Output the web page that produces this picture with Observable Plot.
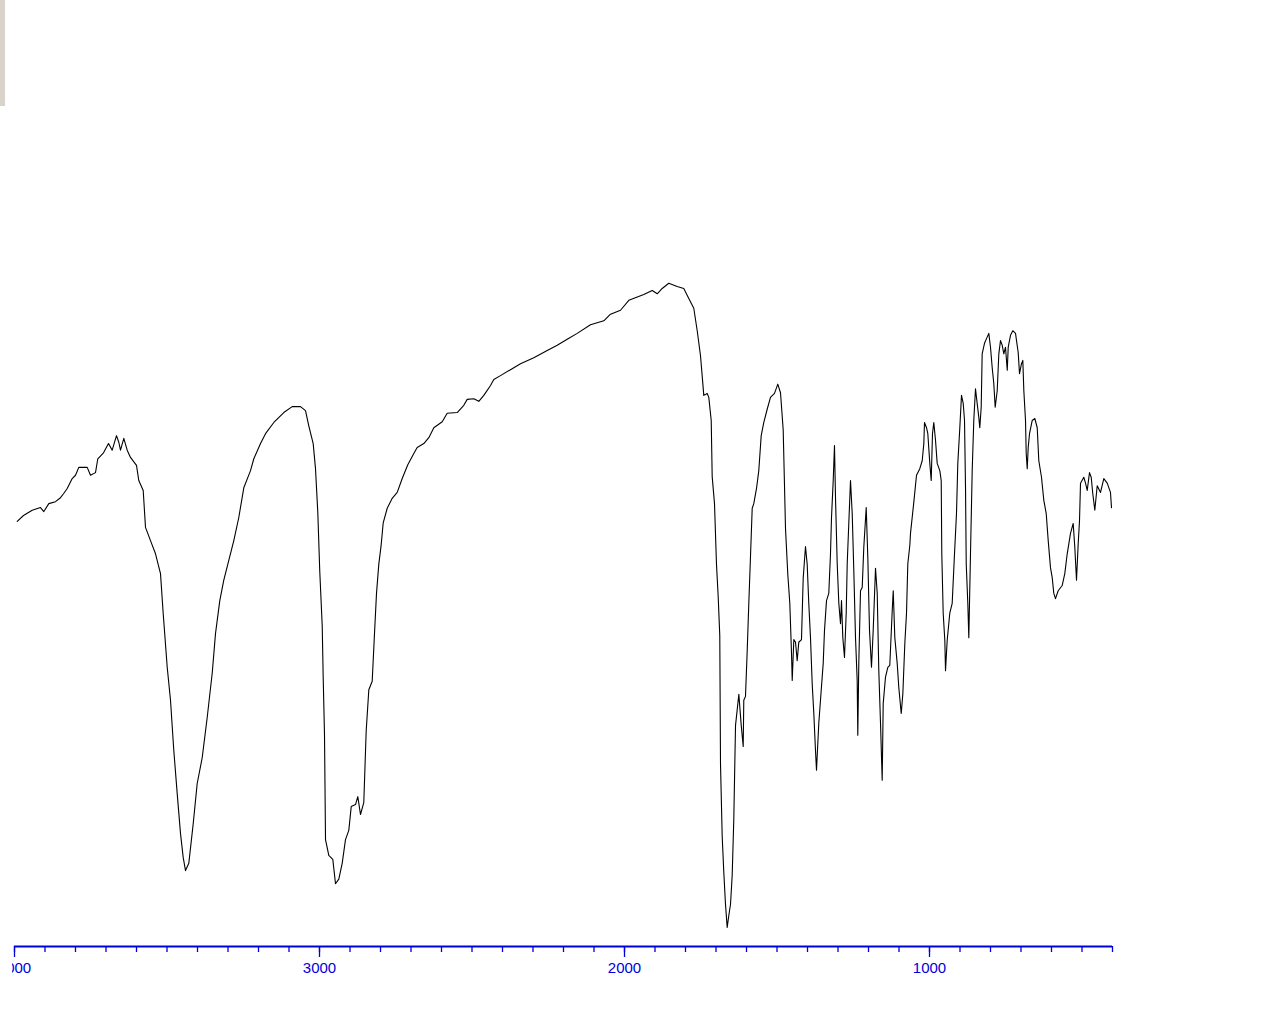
<!DOCTYPE html>
<html>
<head>
<meta charset="utf-8">
<script src="https://cdn.jsdelivr.net/npm/d3@7"></script>
<script src="https://cdn.jsdelivr.net/npm/@observablehq/plot@0.6"></script>
<style>
  html, body { margin: 0; padding: 0; background: #ffffff; }
  #chart { position: absolute; left: 12px; top: 0; }
  #tl { position: absolute; left: 0; top: 0; width: 5px; height: 106px; background: #d8d4cc; }
  #tr { position: absolute; left: 1218px; top: 0; width: 62px; height: 2px; background: #a9c0e6; }
</style>
</head>
<body>
<div id="tl"></div>
<div id="tr"></div>
<div id="chart"></div>
<script>
// Wavenumber (cm-1), descending as plotted left to right
const wavenumber = [
  3991.1, 3970.5, 3942.0, 3914.8, 3903.9, 3887.5, 3865.6, 3849.2, 3839.3, 3827.2,
  3810.8, 3800.0, 3789.2, 3761.6, 3750.8, 3734.4, 3726.9, 3708.2, 3691.8, 3679.7,
  3665.6, 3658.0, 3652.5, 3641.6, 3630.5, 3619.7, 3600.0, 3592.5, 3578.0, 3570.5,
  3554.1, 3537.7, 3521.3, 3512.5, 3499.3, 3488.5, 3477.7, 3466.6, 3455.7, 3446.9,
  3439.3, 3428.5, 3414.1, 3401.0, 3384.6, 3368.2, 3351.8, 3341.0, 3326.9, 3313.8,
  3297.4, 3281.0, 3264.6, 3248.2, 3226.2, 3215.4, 3193.4, 3177.0, 3149.8, 3117.0,
  3089.5, 3062.3, 3045.9, 3035.1, 3020.7, 3013.1, 3005.6, 2999.0,
  2991.1, 2987.9, 2983.6, 2980.3, 2969.5, 2956.4, 2947.5, 2936.7, 2925.6, 2914.8,
  2903.9, 2896.0, 2881.9, 2874.4, 2865.6, 2854.8, 2846.9, 2838.3, 2827.2, 2819.7,
  2813.1, 2805.6, 2797.7, 2791.1, 2778.0, 2761.6, 2745.2, 2728.8, 2710.5, 2690.8,
  2679.7, 2658.0, 2641.6, 2625.2, 2597.7, 2581.3, 2548.5, 2526.9, 2515.7, 2494.1,
  2477.7, 2461.3, 2439.3, 2428.5, 2406.6, 2373.8, 2341.0, 2297.4, 2253.4, 2220.6,
  2187.8, 2155.1, 2111.5, 2067.8, 2045.9, 2013.1, 1985.9, 1936.7, 1909.1, 1892.7,
  1876.4, 1854.7, 1827.3, 1805.6, 1789.2, 1772.8, 1761.6, 1750.8, 1740.0, 1728.9,
  1723.6, 1715.7, 1712.5, 1704.9, 1698.4, 1692.8, 1687.6, 1685.2, 1679.7, 1674.4,
  1668.9, 1663.3, 1658.0, 1652.4, 1646.9, 1641.6, 1636.0, 1625.1, 1617.3, 1610.8,
  1608.9, 1603.3, 1597.7, 1592.4, 1586.9, 1581.3, 1576.1, 1567.2, 1559.7, 1551.8,
  1543.3, 1532.2, 1521.4, 1508.2, 1497.4, 1488.5, 1479.7, 1472.1, 1464.6, 1458.0,
  1452.4, 1450.1, 1444.8, 1439.3, 1433.8, 1428.6, 1419.7, 1414.1, 1406.6, 1401.0,
  1395.8, 1390.2, 1384.6, 1379.3, 1373.8, 1370.5, 1363.0, 1355.1, 1348.5, 1344.3,
  1337.7, 1330.2, 1324.6, 1321.3, 1315.7, 1311.5, 1308.2, 1302.6, 1297.3, 1291.8,
  1288.5, 1284.2, 1278.7, 1273.1, 1269.8, 1264.6, 1259.0, 1253.4, 1248.2, 1242.6,
  1237.1, 1235.1, 1231.8, 1226.2, 1220.6, 1215.4, 1207.5, 1202.2, 1196.7, 1190.2,
  1184.6, 1177.0, 1171.4, 1166.2, 1160.6, 1155.1, 1151.8, 1144.3, 1136.7, 1130.2,
  1122.2, 1118.9, 1113.7, 1105.9, 1100.6, 1092.7, 1087.4, 1080.9, 1075.4, 1071.1,
  1064.5, 1062.3, 1051.5, 1042.6, 1031.8, 1023.9, 1018.6, 1016.4, 1009.8, 1005.5,
  999.0, 994.4, 990.2, 985.9, 980.3, 974.8, 966.2, 961.6, 959.7, 955.1,
  949.8, 947.5, 942.0, 933.5, 925.6, 918.0, 911.5, 907.2, 900.6, 895.1,
  889.5, 885.2, 881.9, 879.6, 874.4, 871.1, 865.6, 860.0, 854.8, 849.2,
  843.7, 838.4, 835.1, 830.5, 827.3, 819.7, 813.1, 805.6, 800.0, 794.4,
  789.2, 784.6, 778.0, 772.7, 767.2, 761.6, 756.3, 750.8, 745.1, 741.9,
  734.4, 726.9, 718.0, 709.2, 704.9, 698.4, 694.0, 690.7, 685.2, 682.9,
  679.6, 676.4, 672.1, 663.2, 654.7, 646.8, 641.6, 632.8, 625.2, 617.3,
  610.8, 603.3, 597.7, 592.4, 586.9, 578.1, 564.9, 556.4, 548.5, 537.7,
  528.9, 523.6, 518.0, 512.4, 508.2, 504.9, 494.0, 488.5, 482.9, 475.4,
  469.8, 464.6, 458.0, 450.1, 439.3, 428.5, 417.3, 406.6, 403.3
];

// Transmittance (%)
const transmittance = [
  64.4, 65.3, 66.1, 66.5, 65.9, 67.1, 67.4, 68.0, 68.6, 69.4,
  70.9, 71.4, 72.6, 72.6, 71.4, 71.8, 73.9, 74.8, 76.2, 75.2,
  77.4, 76.4, 75.2, 77.0, 75.2, 74.1, 72.9, 70.6, 69.1, 63.5,
  61.5, 59.5, 56.5, 50.5, 42.3, 37.3, 29.7, 23.2, 17.1, 13.5,
  11.5, 12.6, 18.6, 24.7, 28.6, 34.7, 41.4, 47.4, 52.4, 55.5,
  58.5, 61.5, 65.0, 69.5, 72.1, 73.9, 76.2, 77.7, 79.4, 80.9,
  81.8, 81.8, 81.2, 78.9, 76.2, 72.4, 65.8, 56.7,
  48.6, 40.8, 32.1, 16.2, 13.8, 13.2, 9.5, 10.2, 12.6, 16.2,
  17.6, 21.2, 21.5, 22.7, 20.0, 21.8, 32.7, 38.9, 40.2, 47.4,
  53.5, 57.9, 60.9, 64.2, 66.4, 67.9, 68.8, 70.9, 73.0, 74.7,
  75.6, 76.2, 77.1, 78.6, 79.5, 80.8, 80.9, 82.0, 82.9, 83.0,
  82.6, 83.5, 85.0, 85.9, 86.5, 87.4, 88.3, 89.2, 90.3, 91.1,
  92.0, 92.9, 94.2, 94.8, 95.8, 96.4, 97.9, 98.8, 99.4, 98.9,
  99.7, 100.5, 100.0, 99.7, 98.2, 96.7, 93.3, 89.5, 83.5, 83.8,
  83.2, 79.7, 71.2, 67.1, 57.9, 53.0, 47.1, 27.6, 16.7, 11.2,
  6.4, 2.9, 4.7, 6.4, 10.8, 19.4, 33.5, 38.2, 33.5, 30.3,
  37.3, 37.9, 44.8, 52.0, 59.1, 66.4, 67.1, 69.4, 72.1, 77.4,
  79.4, 81.4, 83.2, 83.8, 85.2, 83.9, 78.3, 63.3, 56.4, 52.0,
  44.4, 40.3, 46.5, 46.1, 43.3, 46.1, 46.5, 55.8, 60.6, 57.9,
  52.0, 46.8, 39.8, 35.3, 29.7, 26.7, 33.8, 38.8, 42.9, 47.9,
  52.4, 53.5, 59.5, 65.0, 70.6, 75.9, 68.0, 58.0, 52.0, 48.9,
  52.4, 46.8, 43.8, 50.5, 58.0, 64.1, 70.6, 65.6, 57.0, 46.8,
  40.3, 32.0, 42.9, 53.9, 54.4, 60.5, 66.5, 58.9, 47.9, 42.3,
  47.9, 57.3, 53.5, 41.8, 33.8, 25.2, 36.8, 40.8, 42.3, 42.6,
  50.9, 53.9, 46.8, 42.9, 39.2, 35.3, 38.3, 45.9, 50.5, 58.0,
  60.8, 62.6, 67.3, 71.4, 72.4, 73.6, 76.2, 79.4, 78.6, 77.7,
  73.2, 70.6, 77.7, 79.4, 76.7, 73.2, 72.1, 70.6, 59.5, 50.5,
  46.4, 41.8, 46.4, 50.5, 52.0, 59.5, 65.6, 73.2, 78.6, 83.5,
  82.3, 79.7, 69.5, 58.0, 52.0, 46.8, 59.5, 72.1, 79.7, 84.5,
  82.3, 80.2, 78.6, 81.7, 89.8, 91.4, 92.1, 92.9, 90.8, 87.7,
  85.3, 81.7, 84.2, 89.8, 91.8, 91.1, 89.8, 90.8, 87.3, 90.8,
  92.6, 93.3, 92.9, 90.0, 86.8, 88.3, 88.8, 84.2, 79.7, 74.7,
  72.4, 75.6, 77.7, 79.7, 80.0, 78.6, 73.6, 71.1, 67.6, 65.6,
  61.5, 57.4, 55.9, 53.5, 52.7, 53.9, 54.7, 56.5, 59.5, 62.6,
  64.1, 60.5, 55.5, 61.1, 64.5, 70.2, 71.1, 70.2, 69.1, 71.8,
  71.1, 68.6, 66.1, 69.8, 68.8, 70.9, 70.2, 68.8, 66.5
];

const labeledTicks = [4000, 3000, 2000, 1000];
const minorTicks = d3.range(400, 4001, 100);

const axisColor = "#0000dd";
const idx = d3.range(wavenumber.length);

const chart = Plot.plot({
  width: 1268,
  height: 1000,
  marginLeft: 2,
  marginRight: 168,
  marginTop: 286,
  marginBottom: 54,
  style: {
    overflow: "hidden",
    fontFamily: "'Liberation Sans', Arial, sans-serif",
    fontSize: "15px",
    background: "#ffffff"
  },
  x: { domain: [4000, 400], axis: null },
  y: { domain: [0, 100], axis: null },
  marks: [
    Plot.line(idx, {
      x: i => wavenumber[i],
      y: i => transmittance[i],
      stroke: "#000000",
      strokeWidth: 1.1
    }),
    Plot.axisX(minorTicks, {
      anchor: "bottom",
      tickSize: 6,
      tickFormat: () => "",
      stroke: axisColor,
      strokeWidth: 1.3
    }),
    Plot.axisX(labeledTicks, {
      anchor: "bottom",
      tickSize: 11,
      tickPadding: 5,
      tickFormat: d => String(d),
      color: axisColor,
      fill: axisColor,
      stroke: axisColor,
      strokeWidth: 1.3,
      fontSize: 15
    }),
    Plot.ruleY([0], { stroke: axisColor, strokeWidth: 2 })
  ]
});

document.getElementById("chart").appendChild(chart);
</script>
</body>
</html>
